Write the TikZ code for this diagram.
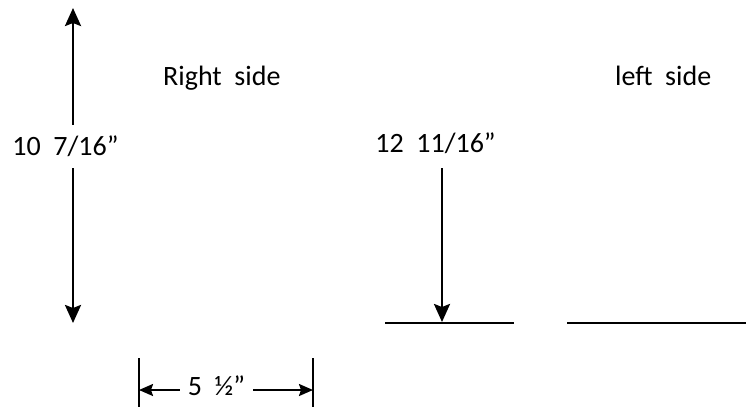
\documentclass[tikz,border=0pt]{standalone}
\usepackage{fontspec}
\setmainfont{Carlito}
\usetikzlibrary{arrows.meta, positioning}

\begin{document}
\begin{tikzpicture}[x=1pt, y=-1pt,
    label/.style={inner sep=0pt, font=\fontsize{28}{32}\selectfont,
                  text height=17pt, text depth=0pt},
    bigarrow/.style={-{Stealth[length=18pt, width=16pt, inset=3pt]}, line width=2.6pt},
    smallarrow/.style={-{Stealth[length=14pt, width=12pt, inset=2pt]}, line width=2pt},
    floor/.style={line width=2pt},
    bar/.style={line width=1.6pt}
  ]
    \useasboundingbox (0,0) rectangle (746,408);

    % side labels
    \node[label, anchor=base west] (rside) at (163,85) {Right\ \ side};
    \node[label, anchor=base west] (lside) at (615,85) {left\ \ side};

    % height of the right side
    \node[label, anchor=base, inner ysep=13pt] (rheight) at (65.5,155) {10\ \ 7/16”};
    \coordinate (rtop) at (73,8);
    \coordinate (rbot) at (73,323);
    \draw[bigarrow] (rheight.north -| rtop) -- (rtop);
    \draw[bigarrow] (rheight.south -| rbot) -- (rbot);

    % height of the left side
    \node[label, anchor=base, inner ysep=16pt] (lheight) at (435.5,152) {12\ \ 11/16”};
    \coordinate (ltip) at (442,322);
    \draw[bigarrow] (lheight.south -| ltip) -- (ltip);
    \draw[floor] (385,323) -- (514,323);
    \draw[floor] (567,323) -- (746,323);

    % width
    \node[label, anchor=base, inner xsep=8pt] (width) at (216.5,395) {5\ \ ½”};
    \coordinate (wl) at (139,390);
    \coordinate (wr) at (313,390);
    \draw[smallarrow] (width.west |- wl) -- (wl);
    \draw[smallarrow] (width.east |- wr) -- (wr);
    \draw[bar] ([yshift=32pt]wl) -- ([yshift=-17pt]wl);
    \draw[bar] ([yshift=32pt]wr) -- ([yshift=-17pt]wr);
  \end{tikzpicture}
\end{document}
